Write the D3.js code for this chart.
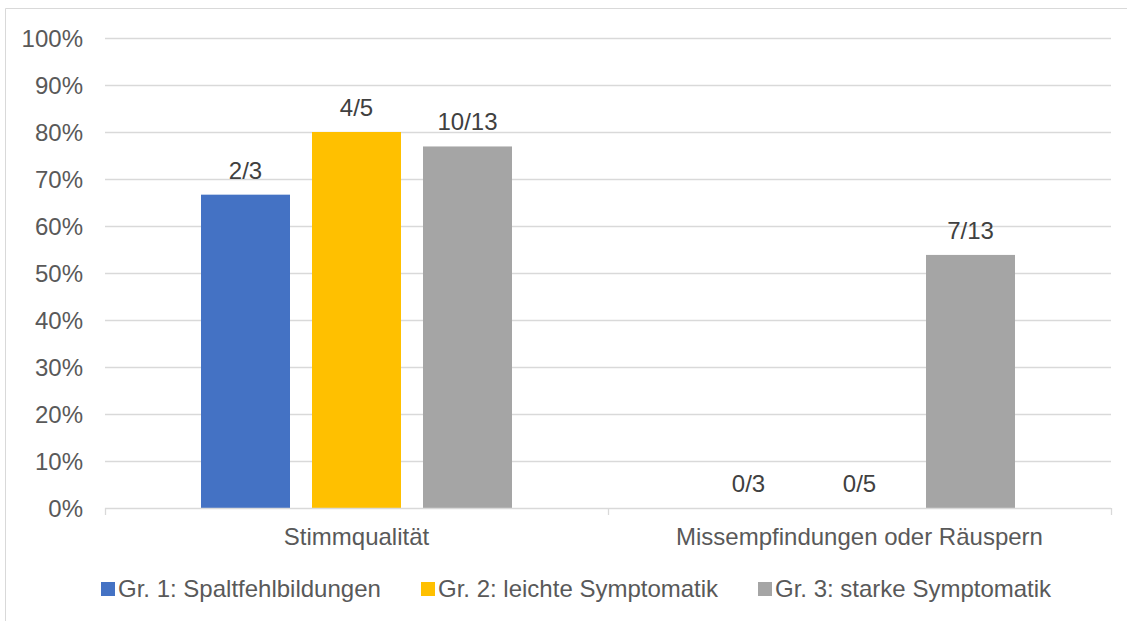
<!DOCTYPE html>
<html>
<head>
<meta charset="utf-8">
<script src="https://cdn.jsdelivr.net/npm/d3@7"></script>
<style>
  body { margin: 0; background: #fff; }
  text { font-family: "Liberation Sans", Arial, sans-serif; }
</style>
</head>
<body>
<svg id="chart" width="1127" height="621"></svg>
<script>
const categories = ["Stimmqualität", "Missempfindungen oder Räuspern"]
const groups = ["Gr. 1: Spaltfehlbildungen", "Gr. 2: leichte Symptomatik", "Gr. 3: starke Symptomatik"]
const colors = ["#4472C4", "#FFC000", "#A5A5A5"]
// counts as "hits / group size"
const hits = [[2, 4, 10], [0, 0, 7]]
const totals = [3, 5, 13]
const yTicks = [0, 0.1, 0.2, 0.3, 0.4, 0.5, 0.6, 0.7, 0.8, 0.9, 1]

const svg = d3.select("#chart")
const fontSize = 24

// outer chart border (only top and left visible in the crop)
svg.append("line").attr("x1", 5.5).attr("x2", 1127).attr("y1", 8.5).attr("y2", 8.5)
  .attr("stroke", "#d9d9d9")
svg.append("line").attr("x1", 5.5).attr("x2", 5.5).attr("y1", 8.5).attr("y2", 621)
  .attr("stroke", "#d9d9d9")

const plotLeft = 105, plotRight = 1111, plotTop = 38, plotBottom = 508

const x = d3.scaleBand().domain(categories).range([plotLeft, plotRight])
const y = d3.scaleLinear().domain([0, 1]).range([plotBottom, plotTop])
const barW = 89, barGap = 22
const xInner = d3.scaleBand().domain(groups)
  .range([0, 3 * barW + 2 * barGap]).paddingInner(barGap / (barW + barGap))

// gridlines
svg.append("g").selectAll("line").data(yTicks.slice(1)).enter().append("line")
  .attr("x1", plotLeft).attr("x2", plotRight)
  .attr("y1", d => Math.round(y(d)) + 0.5).attr("y2", d => Math.round(y(d)) + 0.5)
  .attr("stroke", "#d9d9d9").attr("stroke-width", 1.3)

// y labels
svg.append("g").selectAll("text").data(yTicks).enter().append("text")
  .attr("x", 83).attr("y", d => y(d) + 8.5)
  .attr("text-anchor", "end").attr("font-size", fontSize).attr("fill", "#595959")
  .text(d => Math.round(d * 100) + "%")

// bars
const groupOffset = (x.bandwidth() - xInner.range()[1]) / 2
categories.forEach(function(cat, ci) {
  let g = svg.append("g").attr("transform", `translate(${x(cat) + groupOffset},0)`)
  groups.forEach(function(grp, gi) {
    let v = hits[ci][gi] / totals[gi]
    if (v > 0) {
      g.append("rect")
        .attr("x", xInner(grp)).attr("width", xInner.bandwidth())
        .attr("y", y(v)).attr("height", y(0) - y(v))
        .attr("fill", colors[gi])
    }
    g.append("text")
      .attr("x", xInner(grp) + xInner.bandwidth() / 2)
      .attr("y", y(v) - 16)
      .attr("text-anchor", "middle").attr("font-size", fontSize).attr("fill", "#404040")
      .text(hits[ci][gi] + "/" + totals[gi])
  })
})

// category axis
svg.append("line").attr("x1", plotLeft).attr("x2", plotRight)
  .attr("y1", plotBottom + 0.5).attr("y2", plotBottom + 0.5)
  .attr("stroke", "#d9d9d9").attr("stroke-width", 1.3)
const tickXs = [plotLeft, x(categories[1]), plotRight]
svg.append("g").selectAll("line").data(tickXs).enter().append("line")
  .attr("x1", d => d + 0.5).attr("x2", d => d + 0.5)
  .attr("y1", plotBottom).attr("y2", plotBottom + 7)
  .attr("stroke", "#d9d9d9").attr("stroke-width", 1.3)
svg.append("g").selectAll("text").data(categories).enter().append("text")
  .attr("x", d => x(d) + x.bandwidth() / 2).attr("y", 545)
  .attr("text-anchor", "middle").attr("font-size", fontSize).attr("fill", "#595959")
  .text(d => d)

// legend
const legendX = [101, 421, 758]
const legend = svg.append("g").selectAll("g").data(groups).enter().append("g")
  .attr("transform", (d, i) => `translate(${legendX[i]},582)`)
legend.append("rect").attr("width", 14).attr("height", 14)
  .attr("fill", (d, i) => colors[i])
legend.append("text").attr("x", 17).attr("y", 15)
  .attr("font-size", fontSize).attr("fill", "#595959")
  .text(d => d)
</script>
</body>
</html>
